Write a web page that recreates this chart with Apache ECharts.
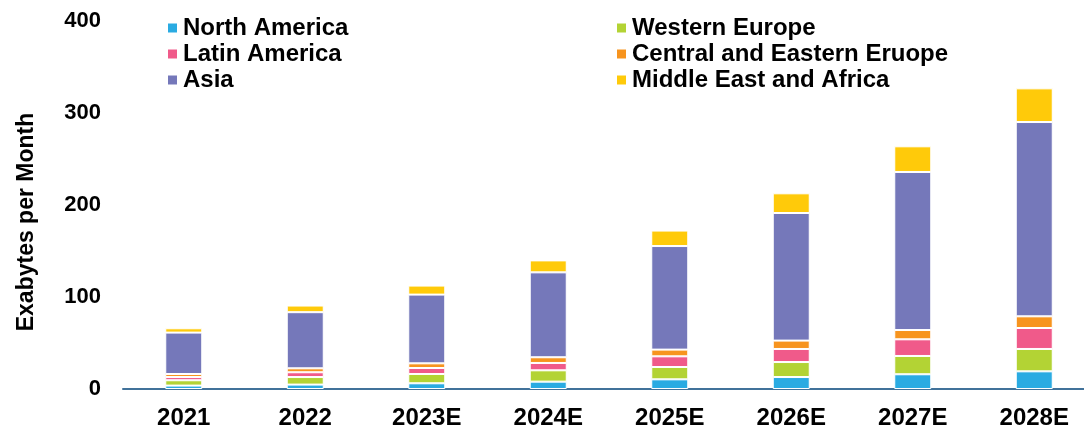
<!DOCTYPE html>
<html>
<head>
<meta charset="utf-8">
<script src="https://cdn.jsdelivr.net/npm/echarts@6/dist/echarts.min.js"></script>
<style>html,body{margin:0;padding:0;background:#fff}#c{width:1084px;height:427px}</style>
</head>
<body>
<div id="c"></div>
<script>
const categories = ['2021','2022','2023E','2024E','2025E','2026E','2027E','2028E'];
const northAmerica = [3.7, 4.8, 6.2, 8.0, 10.5, 13.0, 16.0, 19.2];
const westernEurope = [5.8, 8.2, 10.1, 12.3, 13.4, 16.3, 19.9, 24.3];
const latinAmerica = [3.5, 5.2, 6.5, 8.0, 11.6, 14.2, 18.1, 22.8];
const centralEasternEurope = [3.3, 4.3, 5.1, 6.2, 7.3, 9.1, 10.1, 12.7];
const asia = [45.0, 61.0, 74.7, 92.3, 112.6, 138.7, 171.8, 211.2];
const middleEastAfrica = [4.7, 7.2, 9.8, 13.0, 16.8, 21.4, 27.9, 36.6];
const yTicks = [0, 100, 200, 300, 400];

const FONT = '"Liberation Sans", Arial, sans-serif';
const seriesDefs = [
  {name: 'North America', data: northAmerica, color: '#2AABE2'},
  {name: 'Western Europe', data: westernEurope, color: '#B3D334'},
  {name: 'Latin America', data: latinAmerica, color: '#F05A8A'},
  {name: 'Central and Eastern Eruope', data: centralEasternEurope, color: '#F7941E'},
  {name: 'Asia', data: asia, color: '#7578BA'},
  {name: 'Middle East and Africa', data: middleEastAfrica, color: '#FFCA0A'}
];

const chart = echarts.init(document.getElementById('c'), null, {renderer: 'canvas'});
const legendCommon = {
  orient: 'vertical', itemWidth: 9, itemHeight: 9, itemGap: 0, icon: 'rect',
  itemStyle: {borderWidth: 0},
  textStyle: {fontFamily: FONT, fontWeight: 'bold', fontSize: 24, color: '#000', lineHeight: 26, padding: [0,0,0,1]},
  selectedMode: false
};
chart.setOption({
  animation: false,
  backgroundColor: '#fff',
  grid: {left: 123, width: 972, top: 21, bottom: 38, containLabel: false, outerBoundsMode: 'none'},
  legend: [
    Object.assign({left: 163, top: 10, data: ['North America', 'Latin America', 'Asia']}, legendCommon),
    Object.assign({left: 612, top: 10, data: ['Western Europe', 'Central and Eastern Eruope', 'Middle East and Africa']}, legendCommon)
  ],
  graphic: [{
    type: 'text', x: 27, y: 222, rotation: Math.PI / 2,
    style: {text: 'Exabytes per Month', font: 'bold 23px ' + FONT, fill: '#000', textAlign: 'center', textVerticalAlign: 'middle'}
  }],
  xAxis: {
    type: 'category', data: categories,
    axisLine: {lineStyle: {color: '#41729A', width: 2}},
    axisTick: {show: false},
    axisLabel: {fontFamily: FONT, fontWeight: 'bold', fontSize: 24, color: '#000', margin: 17}
  },
  yAxis: {
    type: 'value', min: yTicks[0], max: yTicks[yTicks.length - 1], interval: 100,
    splitLine: {show: false}, axisLine: {show: false}, axisTick: {show: false},
    axisLabel: {fontFamily: FONT, fontWeight: 'bold', fontSize: 22, color: '#000', margin: 22}
  },
  series: seriesDefs.map(s => ({
    name: s.name, type: 'bar', stack: 'total', data: s.data, barWidth: 37,
    itemStyle: {color: s.color, borderColor: '#fff', borderWidth: 1}
  }))
});
</script>
</body>
</html>
